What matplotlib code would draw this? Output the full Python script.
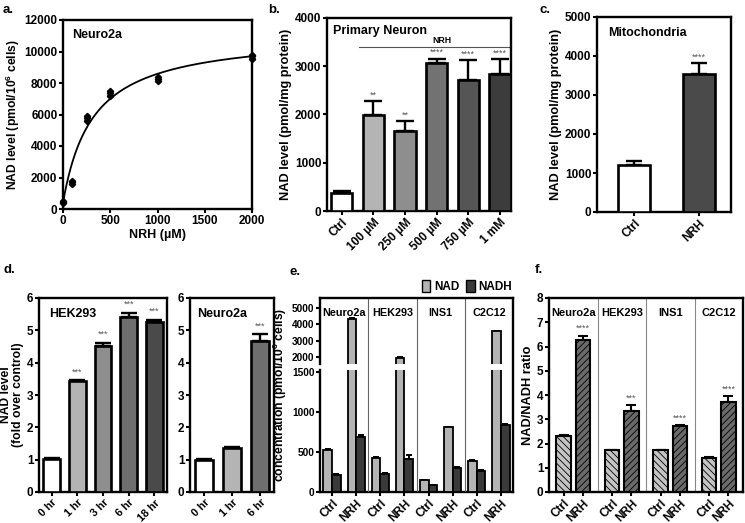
import numpy as np
import matplotlib
matplotlib.use("Agg")
import matplotlib.pyplot as plt
from matplotlib.patches import Patch

plt.rcParams['font.family'] = ['Liberation Sans', 'DejaVu Sans']
plt.rcParams['font.weight'] = 'bold'
plt.rcParams['axes.labelweight'] = 'bold'
plt.rcParams['mathtext.fontset'] = 'custom'
plt.rcParams['mathtext.rm'] = 'Liberation Sans:bold'
plt.rcParams['mathtext.bf'] = 'Liberation Sans:bold'
plt.rcParams['hatch.linewidth'] = 0.6

W, H = 745, 523

# --- panel a: dose response, Neuro2a ---
a_conc = [0, 100, 250, 500, 1000, 2000]
a_reps = [[400, 450, 500], [1600, 1700, 1800], [5600, 5750, 5900],
          [7200, 7350, 7500], [8100, 8250, 8400], [9550, 9700, 9800]]
a_fit_y0, a_fit_vmax, a_fit_km = 400, 10770, 316

# --- panel b: primary neuron ---
b_labels = ['Ctrl', '100 µM', '250 µM', '500 µM', '750 µM', '1 mM']
b_values = [380, 1980, 1650, 3070, 2710, 2830]
b_errors = [30, 300, 210, 90, 420, 310]
b_stars = ['', '**', '**', '****', '****', '****']
b_colors = ['white', '#b4b4b4', '#8e8e8e', '#727272', '#555555', '#3c3c3c']

# --- panel c: mitochondria ---
c_labels = ['Ctrl', 'NRH']
c_values = [1200, 3550]
c_errors = [120, 260]
c_stars = ['', '****']
c_colors = ['white', '#4a4a4a']

# --- panel d: time course ---
d1_labels = ['0 hr', '1 hr', '3 hr', '6 hr', '18 hr']
d1_values = [1.03, 3.43, 4.52, 5.41, 5.27]
d1_errors = [0.03, 0.03, 0.1, 0.13, 0.06]
d1_stars = ['', '***', '***', '***', '***']
d1_colors = ['white', '#b4b4b4', '#8e8e8e', '#6e6e6e', '#4a4a4a']

d2_labels = ['0 hr', '1 hr', '6 hr']
d2_values = [1.0, 1.35, 4.68]
d2_errors = [0.02, 0.04, 0.2]
d2_stars = ['', '', '***']
d2_colors = ['white', '#b4b4b4', '#6e6e6e']

# --- panel e: NAD / NADH concentrations ---
e_cells = ['Neuro2a', 'HEK293', 'INS1', 'C2C12']
e_ticks = ['Ctrl', 'NRH'] * 4
e_nad = [520, 4350, 420, 1980, 145, 805, 385, 3590]
e_nad_err = [10, 40, 10, 40, 8, 10, 10, 30]
e_nadh = [215, 690, 230, 415, 85, 300, 260, 840]
e_nadh_err = [8, 20, 8, 40, 5, 8, 8, 10]

# --- panel f: NAD/NADH ratio ---
f_ratio = [2.32, 6.25, 1.72, 3.35, 1.72, 2.72, 1.42, 3.72]
f_err = [0.04, 0.2, 0.03, 0.25, 0.03, 0.03, 0.03, 0.25]
f_stars = ['', '****', '', '***', '', '****', '', '****']


def ax_px(fig, l, r, t, b):
    return fig.add_axes([l / W, (H - b) / H, (r - l) / W, (b - t) / H])


def style(ax, fs=8.5):
    for s in ax.spines.values():
        s.set_linewidth(1.7)
    ax.tick_params(direction='out', length=3, width=1.5, labelsize=fs, pad=1)


def bar_panel(ax, labels, values, errors, colors, stars, width, star_off, cap):
    x = np.arange(len(values))
    ax.bar(x, values, width, color=colors, edgecolor='black', linewidth=1.9, zorder=3)
    ax.errorbar(x, values, yerr=[np.zeros(len(values)), errors], fmt='none',
                ecolor='black', elinewidth=1.7, capsize=cap, capthick=1.7, zorder=2)
    for xi, v, e, s in zip(x, values, errors, stars):
        if s:
            ax.text(xi, v + e + star_off, s, ha='center', va='bottom',
                    fontsize=6.5, color='#555555', fontweight='normal')
    ax.set_xticks(x)
    ax.set_xticklabels(labels, rotation=45, ha='right', rotation_mode='anchor')


fig = plt.figure(figsize=(W / 100, H / 100), dpi=100)

# a
ax = ax_px(fig, 63, 252, 20, 209)
style(ax)
xs = np.linspace(0, 2000, 300)
ax.plot(xs, a_fit_y0 + a_fit_vmax * xs / (a_fit_km + xs), color='black', lw=1.3)
for c, reps in zip(a_conc, a_reps):
    ax.plot([c] * len(reps), reps, 'D', color='black', ms=3.2, clip_on=False, zorder=4)
    ax.errorbar(c, np.mean(reps), yerr=np.std(reps), fmt='none', ecolor='black',
                elinewidth=1.2, capsize=2.5, clip_on=False)
ax.set_xlim(0, 2000)
ax.set_ylim(0, 12000)
ax.set_xticks([0, 500, 1000, 1500, 2000])
ax.set_yticks(range(0, 12001, 2000))
ax.set_xlabel('NRH (µM)', fontsize=9, labelpad=2)
ax.set_ylabel(r'NAD level (pmol/10$^{\mathbf{6}}$ cells)', fontsize=8.7, labelpad=2)
ax.text(0.05, 0.95, 'Neuro2a', transform=ax.transAxes, fontsize=9, va='top')
fig.text(3 / W, 1 - 10 / H, 'a.', fontsize=9.5, va='center')

# b
ax = ax_px(fig, 327, 511, 18, 211)
style(ax)
bar_panel(ax, b_labels, b_values, b_errors, b_colors, b_stars, 0.67, 30, 6.5)
ax.set_xlim(-0.47, 5.35)
ax.set_ylim(0, 4000)
ax.set_yticks(range(0, 4001, 1000))
ax.set_ylabel('NAD level (pmol/mg protein)', fontsize=9.2, labelpad=2)
ax.text(0.03, 0.965, 'Primary Neuron', transform=ax.transAxes, fontsize=9, va='top')
ax.plot([0.55, 5.35], [3400, 3400], color='#555555', lw=0.8, clip_on=False)
ax.text(3.15, 3440, 'NRH', ha='center', va='bottom', fontsize=6.3)
fig.text(268 / W, 1 - 10 / H, 'b.', fontsize=9.5, va='center')

# c
ax = ax_px(fig, 597, 731, 17, 212)
style(ax)
bar_panel(ax, c_labels, c_values, c_errors, c_colors, c_stars, 0.5, 40, 5.5)
ax.set_xlim(-0.57, 1.49)
ax.set_ylim(0, 5000)
ax.set_yticks(range(0, 5001, 1000))
ax.set_ylabel('NAD level (pmol/mg protein)', fontsize=9.2, labelpad=2)
ax.text(0.08, 0.95, 'Mitochondria', transform=ax.transAxes, fontsize=9, va='top')
fig.text(540 / W, 1 - 10 / H, 'c.', fontsize=9.5, va='center')

# d
ax = ax_px(fig, 39, 167, 298, 492)
style(ax)
bar_panel(ax, d1_labels, d1_values, d1_errors, d1_colors, d1_stars, 0.65, 0.12, 6)
ax.tick_params(axis='x', labelsize=7.8)
ax.set_xlim(-0.5, 4.5)
ax.set_ylim(0, 6)
ax.set_ylabel('NAD level\n(fold over control)', fontsize=8.7, labelpad=2, linespacing=1.0)
ax.text(0.08, 0.95, 'HEK293', transform=ax.transAxes, fontsize=9, va='top')

ax = ax_px(fig, 190, 274, 298, 492)
style(ax)
bar_panel(ax, d2_labels, d2_values, d2_errors, d2_colors, d2_stars, 0.65, 0.12, 6)
ax.tick_params(axis='x', labelsize=7.8)
ax.set_xlim(-0.5, 2.5)
ax.set_ylim(0, 6)
ax.text(0.08, 0.95, 'Neuro2a', transform=ax.transAxes, fontsize=9, va='top')
fig.text(3 / W, 1 - 270 / H, 'd.', fontsize=9.5, va='center')

# e (broken y axis)
xe = np.arange(8)
bw = 0.36
ax_lo = ax_px(fig, 320, 513, 370, 492)
ax_hi = ax_px(fig, 320, 513, 298, 364)
frame = ax_px(fig, 320, 513, 298, 492)
for a_ in (ax_lo, ax_hi):
    style(a_, fs=7.3)
    a_.bar(xe - bw / 2, e_nad, bw, color='#b4b4b4', edgecolor='black', linewidth=1.3, zorder=3)
    a_.bar(xe + bw / 2, e_nadh, bw, color='#3a3a3a', edgecolor='black', linewidth=1.3, zorder=3)
    a_.errorbar(xe - bw / 2, e_nad, yerr=[np.zeros(8), e_nad_err], fmt='none',
                ecolor='black', elinewidth=1.4, capsize=2.5, capthick=1.4, zorder=2)
    a_.errorbar(xe + bw / 2, e_nadh, yerr=[np.zeros(8), e_nadh_err], fmt='none',
                ecolor='black', elinewidth=1.4, capsize=2.5, capthick=1.4, zorder=2)
    a_.set_xlim(-0.5, 7.5)
    a_.spines['top'].set_visible(False)
    a_.spines['right'].set_visible(False)
    a_.patch.set_visible(False)
ax_lo.set_ylim(0, 1520)
ax_lo.set_yticks([0, 500, 1000, 1500])
ax_lo.set_xticks(xe)
ax_lo.set_xticklabels(e_ticks, rotation=45, ha='right', rotation_mode='anchor', fontsize=8.5)
ax_hi.set_ylim(1600, 5600)
ax_hi.set_yticks([2000, 3000, 4000, 5000])
ax_hi.spines['bottom'].set_visible(False)
ax_hi.set_xticks([])
frame.set_xlim(-0.5, 7.5)
frame.set_ylim(0, 1)
frame.set_xticks([])
frame.set_yticks([])
frame.patch.set_visible(False)
frame.spines['left'].set_visible(False)
frame.spines['bottom'].set_visible(False)
frame.spines['top'].set_linewidth(1.7)
frame.spines['right'].set_linewidth(1.7)
for i, name in enumerate(e_cells):
    frame.text(2 * i + 0.5, 0.95, name, ha='center', va='top', fontsize=7.8)
    if i > 0:
        frame.axvline(2 * i - 0.5, color='#666666', lw=0.8)
ax_lo.set_ylabel(r'concentration (pmol/10$^{\mathbf{6}}$ cells)', fontsize=8.7, labelpad=2,
                 y=0.8)
frame.legend(handles=[Patch(facecolor='#b4b4b4', edgecolor='black', label='NAD'),
                      Patch(facecolor='#3a3a3a', edgecolor='black', label='NADH')],
             loc='lower right', bbox_to_anchor=(1.03, 0.99), ncol=2, frameon=False,
             fontsize=8.5, handlelength=0.7, handleheight=1.1, handletextpad=0.3,
             columnspacing=0.6, borderpad=0.1)
fig.text(290 / W, 1 - 272 / H, 'e.', fontsize=9.5, va='center')

# f
ax = ax_px(fig, 549, 743, 298, 492)
style(ax)
xf = np.array([2 * g + o for g in range(4) for o in (0.1, 0.9)])
f_colors = ['#c4c4c4', '#6a6a6a'] * 4
f_hatch = ['\\\\\\\\\\', '/////'] * 4
bars = ax.bar(xf, f_ratio, 0.6, color=f_colors, edgecolor='black', linewidth=1.5, zorder=3)
for b_, h_ in zip(bars, f_hatch):
    b_.set_hatch(h_)
ax.errorbar(xf, f_ratio, yerr=[np.zeros(8), f_err], fmt='none', ecolor='black',
            elinewidth=1.5, capsize=3.6, capthick=1.5, zorder=2)
for xi, v, e, s in zip(xf, f_ratio, f_err, f_stars):
    if s:
        ax.text(xi, v + e + 0.1, s, ha='center', va='bottom', fontsize=6.5,
                color='#555555', fontweight='normal')
for i, name in enumerate(e_cells):
    ax.text(2 * i + 0.5, 7.6, name, ha='center', va='top', fontsize=8)
    if i > 0:
        ax.axvline(2 * i - 0.5, color='#888888', lw=0.8)
ax.set_xlim(-0.5, 7.5)
ax.set_ylim(0, 8)
ax.set_xticks(xf)
ax.set_xticklabels(e_ticks, rotation=45, ha='right', rotation_mode='anchor')
ax.set_ylabel('NAD/NADH ratio', fontsize=9.2, labelpad=2)
fig.text(535 / W, 1 - 270 / H, 'f.', fontsize=9.5, va='center')

fig.savefig('out.png', dpi=100)
